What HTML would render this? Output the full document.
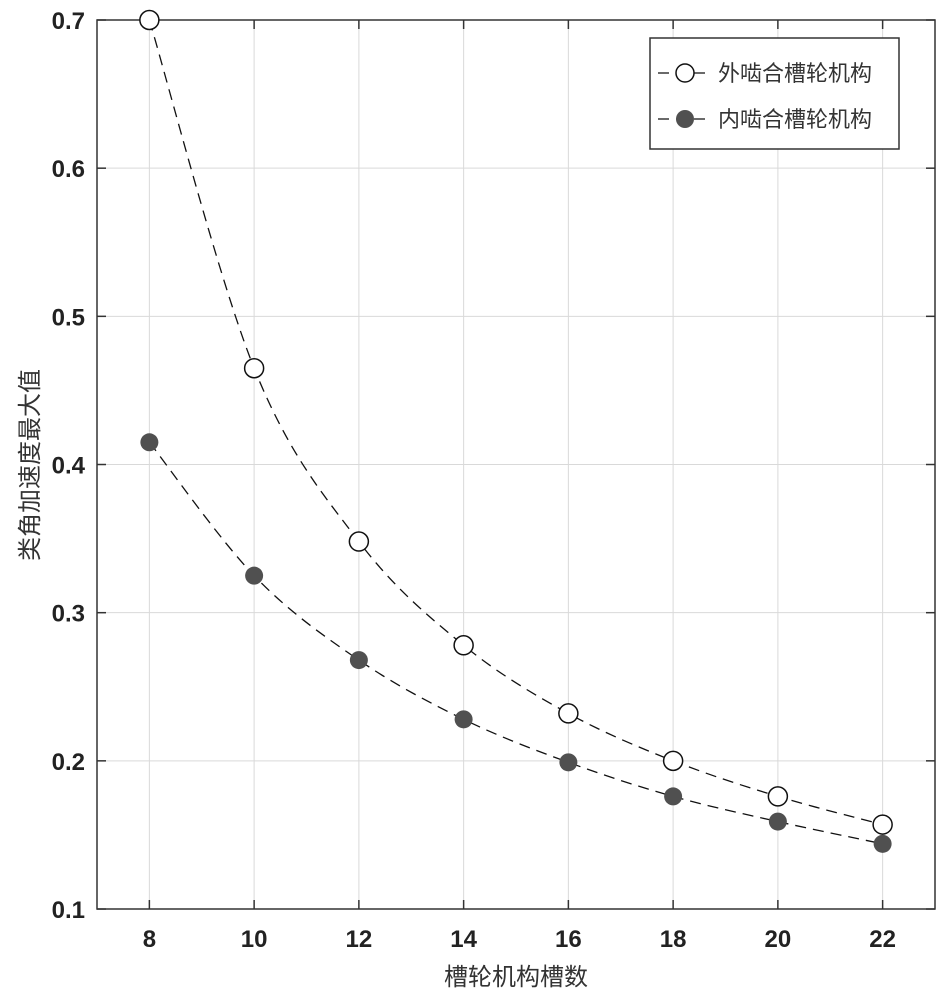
<!DOCTYPE html>
<html><head><meta charset="utf-8"><style>
body{margin:0;background:#fff}
text{font-family:"Liberation Sans","Noto Sans CJK SC",sans-serif}
</style></head><body>
<svg id="s" width="945" height="997" xmlns="http://www.w3.org/2000/svg">
<rect width="945" height="997" fill="#fff"/>
<g id="grid" stroke="#d9d9d9" stroke-width="1"></g>
<g id="ticks" stroke="#333" stroke-width="1.5"></g>
<rect x="97" y="20" width="838" height="889" fill="none" stroke="#333" stroke-width="1.5"/>
<g id="lab" font-weight="bold" font-size="24" fill="#222"></g>
<g id="ser"></g>
<text x="516" y="985" font-size="24" text-anchor="middle" fill="#333" font-family="'Noto Sans CJK SC',sans-serif">槽轮机构槽数</text>
<text transform="translate(38,465) rotate(-90)" font-size="24" text-anchor="middle" fill="#333" font-family="'Noto Sans CJK SC',sans-serif">类角加速度最大值</text>
<rect x="650" y="38" width="249" height="111" fill="#fff" stroke="#333" stroke-width="1.5"/>
<line x1="658" y1="73" x2="712" y2="73" stroke="#111" stroke-width="1.3" stroke-dasharray="11,7"/>
<circle cx="685" cy="73" r="9" fill="#fff" stroke="#111" stroke-width="1.5"/>
<text x="718" y="81" font-size="22" fill="#333" font-family="'Noto Sans CJK SC',sans-serif">外啮合槽轮机构</text>
<line x1="658" y1="119" x2="712" y2="119" stroke="#111" stroke-width="1.3" stroke-dasharray="11,7"/>
<circle cx="685" cy="119" r="9" fill="#505050"/>
<text x="718" y="127" font-size="22" fill="#333" font-family="'Noto Sans CJK SC',sans-serif">内啮合槽轮机构</text>
</svg>
<script>
const NS="http://www.w3.org/2000/svg";
function X(v){return 97+(v-7)*52.375}
function Y(v){return 20+(0.7-v)*1481.7}
function el(p,t,a,txt){const e=document.createElementNS(NS,t);for(const k in a)e.setAttribute(k,a[k]);if(txt)e.textContent=txt;document.getElementById(p).appendChild(e);return e}
for(let x=8;x<=22;x+=2){el("grid","line",{x1:X(x),x2:X(x),y1:20,y2:909});el("ticks","line",{x1:X(x),x2:X(x),y1:909,y2:900});el("ticks","line",{x1:X(x),x2:X(x),y1:20,y2:29});el("lab","text",{x:X(x),y:947,"text-anchor":"middle"},x)}
for(let i=1;i<=7;i++){const v=i/10,y=Y(v);el("grid","line",{x1:97,x2:935,y1:y,y2:y});el("ticks","line",{x1:97,x2:106,y1:y,y2:y});el("ticks","line",{x1:935,x2:926,y1:y,y2:y});el("lab","text",{x:85,y:y+9,"text-anchor":"end"},v.toFixed(1))}
const xs=[8,10,12,14,16,18,20,22];
const a=[0.700,0.465,0.348,0.278,0.232,0.200,0.176,0.157];
const b=[0.415,0.325,0.268,0.228,0.199,0.176,0.159,0.144];
function path(d){const p=xs.map((x,i)=>[X(x),Y(d[i])]);let s="M"+p[0];for(let i=0;i<p.length-1;i++){const p0=p[Math.max(0,i-1)],p1=p[i],p2=p[i+1],p3=p[Math.min(p.length-1,i+2)];const c1=[p1[0]+(p2[0]-p0[0])/6,p1[1]+(p2[1]-p0[1])/6],c2=[p2[0]-(p3[0]-p1[0])/6,p2[1]-(p3[1]-p1[1])/6];s+=" C"+c1+" "+c2+" "+p2}return s}
[a,b].forEach((d,k)=>{el("ser","path",{d:path(d),fill:"none",stroke:"#111","stroke-width":1.3,"stroke-dasharray":"11,7"});xs.forEach((x,i)=>{el("ser","circle",k?{cx:X(x),cy:Y(d[i]),r:9,fill:"#505050"}:{cx:X(x),cy:Y(d[i]),r:9.5,fill:"#fff",stroke:"#111","stroke-width":1.5})})});
</script>
</body></html>
